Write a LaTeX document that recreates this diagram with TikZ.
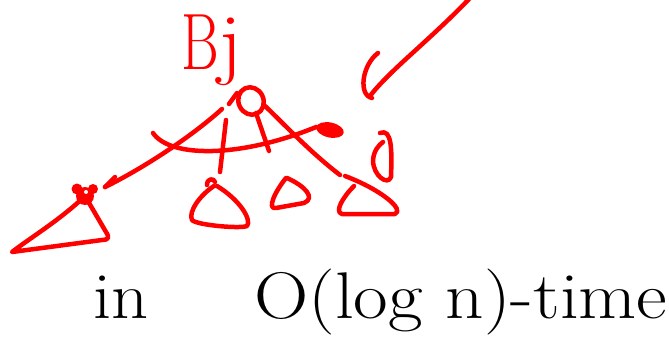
\documentclass[tikz,border=0pt]{standalone}
\usetikzlibrary{shapes.geometric}
\begin{document}
\begin{tikzpicture}[x=1pt,y=-1pt,
  redline/.style={draw=red,line width=4.5pt,line cap=round,line join=round},
  redfill/.style={fill=red,draw=none},
  bigtext/.style={inner sep=0pt,anchor=base west,font=\fontsize{66}{66}\selectfont}]
\useasboundingbox (0,0) rectangle (669,337);
% coordinates
\coordinate (arrowtop) at (470,-2);
\coordinate (arrowtip) at (370,96);
\coordinate (lstart) at (222,109);
\coordinate (ltip) at (105,187);
\coordinate (m1s) at (226,120);
\coordinate (m1e) at (220,172);
\coordinate (m2s) at (256,113);
\coordinate (m2e) at (269,151);
\coordinate (rs) at (264,105);
\coordinate (re) at (340,175);
\coordinate (arcs) at (153,133);
% label Bj
\node[text=red,inner sep=0pt,anchor=base west,font=\fontsize{80}{80}\selectfont] (bj) at (181,70) {\scalebox{0.72}[1]{B}\scalebox{1.1}[1]{j}};
% root
\node[ellipse,redline,minimum width=25pt,minimum height=28pt,inner sep=0pt,rotate=25] (root) at (251,101) {};
\draw[redline] (229,104) -- (237,93);
% big arrow
\draw[redline] (arrowtop) .. controls (430,40) and (390,70) .. (arrowtip);
\draw[redline] (372,98) .. controls (358,95) and (362,65) .. (378,53);
% left arrow
\draw[redline] (lstart) .. controls (190,138) and (140,170) .. (ltip);
\draw[redline] (ltip) -- (115,177);
% middle lines
\draw[redline] (m1s) -- (m1e);
\draw[redline] (m2s) -- (m2e);
% right line
\draw[redline] (rs) .. controls (285,125) and (310,152) .. (re);
% curved arrow with blob head
\node[ellipse,redfill,minimum width=28pt,minimum height=15pt,inner sep=0pt,rotate=-12] (blob) at (330,130) {};
\draw[redline] (arcs) .. controls (170,158) and (240,158) .. (blob.west);
% left blob node
\node[circle,redfill,minimum size=18pt,inner sep=0pt] (lb3) at (85,196) {};
\node[circle,redfill,minimum size=11pt,inner sep=0pt] (lb1) at (77,189) {};
\node[circle,redfill,minimum size=10pt,inner sep=0pt] (lb2) at (93,189) {};
\fill[white] (86,192) circle (2pt);
% left triangle
\draw[redline] (lb3.center) -- (106,232) .. controls (110,238) and (108,240) .. (102,240) -- (12,252) .. controls (30,238) and (60,220) .. (lb3.center);
% triangle 1
\draw[redline] (214,186) .. controls (200,195) and (188,212) .. (192,220) .. controls (196,225) and (240,229) .. (247,226) .. controls (252,220) and (240,200) .. (217,186);
\draw[redline] (207,185) .. controls (207,178) and (214,178) .. (215,182);
% triangle 2
\draw[redline] (286,178) .. controls (276,190) and (266,210) .. (276,208) -- (304,203) .. controls (316,198) and (305,186) .. (287,178);
% triangle 3
\draw[redline] (354,186) .. controls (343,197) and (334,212) .. (342,214) -- (395,214) .. controls (405,210) and (382,190) .. (345,176);
% the 0-like mark
\draw[redline] (380,133) .. controls (392,128) and (392,150) .. (391,177) .. controls (388,186) and (373,176) .. (373,160) .. controls (374,150) and (379,145) .. (383,142);
% bottom text
\node[bigtext] (intext) at (93,318) {\scalebox{1.1}[1]{in}};
\node[bigtext] (timetext) at (254,318) {\scalebox{1.14}[1]{O(log n)-time}};
\end{tikzpicture}
\end{document}
